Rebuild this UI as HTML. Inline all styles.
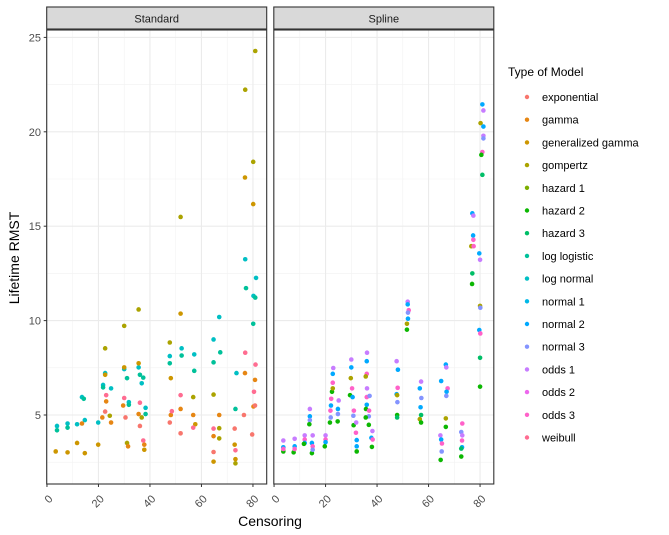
<!DOCTYPE html>
<html><head><meta charset="utf-8"><style>
html,body{margin:0;padding:0;background:#fff;}
svg{display:block;font-family:"Liberation Sans",Arial,sans-serif;}
</style></head><body>
<svg id="chart" width="669" height="535" viewBox="0 0 669 535" xmlns="http://www.w3.org/2000/svg">
<rect x="0" y="0" width="669" height="535" fill="#fff"/>
<g id="panels"></g>
<text x="270" y="526" text-anchor="middle" font-size="14" fill="#000">Censoring</text>
<text transform="translate(19,258) rotate(-90)" text-anchor="middle" font-size="14" fill="#000">Lifetime RMST</text>
<g id="legend">
<text x="508" y="76" font-size="12" fill="#000">Type of Model</text>
</g>
</svg>
<script>
const modelNames = ["exponential","gamma","generalized gamma","gompertz","hazard 1","hazard 2","hazard 3","log logistic","log normal","normal 1","normal 2","normal 3","odds 1","odds 2","odds 3","weibull"];
const modelColors = ["#F8766D","#E68613","#CD9600","#ABA300","#7CAE00","#0CB702","#00BE67","#00C19A","#00BFC4","#00B8E7","#00A9FF","#8494FF","#C77CFF","#ED68ED","#FF61C9","#FF6C91"];
const panelTitles = ["Standard","Spline"];
const xTicks = [0,20,40,60,80];
const yTicks = [5,10,15,20,25];

const standardCens = [3.9,3.9,8,8,11.7,13.6,14.3,14.7,19.9,21.8,21.8,22.6,24.9,30,31.1,31.8,31.8,35.6,36.1,36.8,37.4,38.3,38.3,47.7,47.7,52.3,52.3,57.2,57.2,64.7,64.7,66.9,67.3,73.6,73.2,77,77.3,81.2,80.2,80.9,80.1,
22.6,30,35.6,47.7,51.9,56.8,64.7,66.9,66.9,73.2,77,80.9,80.1,24.4,31.1,36.8,
3.4,8,11.7,14.7,19.9,22.6,30,35.6,37.8,51.9,48.1,72.9,73.2,76.9,80.1,64.7,57.6,
13.6,21.5,23,24.9,29.6,31.5,35.6,37.8,48.1,51.9,56.8,66.9,64.7,76.9,80.8,80.2,
23,22.6,30,30.5,36.1,36.1,37.4,47.7,51.9,51.9,48.5,56.8,64.7,64.7,72.9,73.2,76.5,77,79.7,81,80.4,80.8];
const standardRmst = [4.42,4.19,4.55,4.33,4.51,5.95,5.86,4.73,4.6,6.59,6.46,7.22,6.41,7.43,6.95,5.68,5.54,7.52,7.13,6.68,6.98,5.38,5.05,8.12,7.74,8.53,8.15,8.21,7.34,9,7.79,10.19,8.32,7.22,5.32,13.25,11.72,12.26,11.31,11.22,9.83,
8.53,9.72,10.59,8.84,15.49,5.95,6.08,4.3,3.76,2.44,22.23,24.28,18.41,4.96,3.52,4.87,
3.07,3.02,3.52,2.98,3.43,7.13,7.52,7.74,3.16,10.37,6.95,3.43,2.66,17.58,16.17,2.53,4.51,
4.55,4.87,5.72,4.6,5.5,3.34,5.05,3.43,5,5.32,5,5,3.88,7.22,6.86,5.45,
6.05,5.18,5.9,4.87,5.65,4.42,3.65,4.6,6.05,4.03,5.2,4.33,4.28,3.04,4.28,3.13,5,8.3,3.97,7.67,6.23,5.5];
const standardModel = [8,7,8,7,8,8,7,8,8,8,7,8,8,8,7,8,7,8,7,8,7,8,7,8,7,8,7,8,7,8,7,8,7,8,7,8,7,8,8,7,7,
3,3,3,3,3,3,3,3,3,3,3,3,3,3,3,3,
2,2,2,2,2,2,2,2,2,2,2,2,2,2,2,2,2,
1,1,1,1,1,1,1,1,1,1,1,1,1,1,1,1,
15,0,15,0,15,0,15,0,15,0,15,15,15,0,0,15,0,15,0,15,15,0];

const splineCens = [3.6,3.6,3.6,3.6, 8,8,7.6,8, 11.9,11.9,11.9,11.6, 13.9,13.9,13.9,13.7, 15,14.7,15,14.7,15, 20,20,20,19.7,
23,22.8,22.8,22.5,22.2,22.1,21.9,22,21.7,22.8, 25.1,24.8,24.8,24.7,
30,30,29.8,30.3,29.5,30.5,31,30.8,30.9,31.9,31.8,32.1,32.1,32.1,
36.1,36,36,35.6,36.1,36,36,35.7,36.9,36.8,36.8,37.1,38.2,37.8,38.3,38,35.6,
47.6,48.1,48,47.6,47.9,47.8,47.8,47.8, 51.9,51.9,52.3,52,52,51.6,51.6,
57.1,56.6,57.2,56.9,57.1,56.6,57.1, 64.9,64.6,64.9,65.2,65.1,64.7, 66.7,66.9,67.4,67,66.9,66.7,66.7,
73.1,72.7,73.1,73,73,72.7,72.7, 77,77.4,77.3,77.4,76.6,77.5,77,76.9,
80.9,81.3,80.2,81.3,81.3,81.3,80.9,80.5,80.9,79.7,80,80,80.1,79.7,80.1,80,80];
const splineRmst = [3.65,3.29,3.07,3.2, 3.74,3.34,3.02,3.2, 3.92,3.7,3.52,3.47, 5.32,4.93,4.73,4.51, 3.92,3.52,3.34,2.98,3.16, 3.92,3.7,3.56,3.34,
7.49,7.18,6.71,6.23,5.86,5.5,5.23,4.87,4.6,6.41, 5.77,5.32,5.05,4.66,
7.94,7.52,6.95,6.41,6.05,5.95,5.23,4.96,4.46,4.6,4.06,3.67,3.34,3.07,
8.3,7.85,7.18,7.04,6.41,5.95,5.54,5.32,5.23,4.93,4.48,6.01,4.15,3.79,3.7,3.31,4.87,
7.85,7.4,6.44,6.1,5.68,6.05,5,4.87, 11,10.86,10.55,10.42,10.1,9.83,9.52,
6.77,6.41,5.9,5.41,5,4.78,4.6, 6.8,3.92,3.7,3.49,3.07,2.62, 7.67,7.52,6.41,6.23,6.01,4.82,4.37,
4.55,4.1,3.92,3.65,3.29,3.22,2.8, 15.68,15.56,14.51,14.28,13.94,13.94,12.5,11.94,
21.45,21.13,20.46,20.28,19.79,19.65,18.93,18.78,17.72,13.56,13.22,10.78,10.68,9.5,9.32,8.03,6.5];
const splineModel = [12,10,5,14, 12,10,5,14, 12,14,10,5, 12,10,11,5, 12,10,14,5,11, 12,14,10,5,
12,10,14,5,14,10,14,11,5,3, 12,10,11,5,
12,10,3,14,5,10,14,11,5,12,14,10,10,5,
12,10,14,3,12,14,10,5,14,11,5,11,12,10,14,5,5,
12,10,14,10,11,3,5,6, 12,10,14,11,10,3,5,
12,10,11,10,6,3,5, 10,12,10,14,11,5, 10,12,14,10,11,3,5,
14,11,12,14,10,6,5, 10,12,10,14,3,14,6,5,
10,12,3,10,12,11,14,5,6,10,12,3,11,10,14,6,5];

const NS = "http://www.w3.org/2000/svg";
const panelX = [46.7, 273.8];
const panelW = 220;
const stripTop = 7, panelTop = 30, panelBottom = 484;
const xMin = -0.1, xScale = 2.575;
function xPos(p, c){ return panelX[p] + (c - xMin) * xScale; }
function yPos(v){ return 415 - (v - 5) * 18.88; }
function mk(tag, attrs){ const e = document.createElementNS(NS, tag); for (const k in attrs) e.setAttribute(k, attrs[k]); return e; }

const panels = document.getElementById('panels');
const datasets = [[standardCens, standardRmst, standardModel],[splineCens, splineRmst, splineModel]];
for (let p = 0; p < 2; p++) {
  const g = mk('g', {});
  
  
  panels.appendChild(g);
  const x0 = panelX[p];
  const bg = mk('rect', {x:x0, y:panelTop, width:panelW, height:panelBottom-panelTop, fill:'#fff'});
  
  
  g.appendChild(bg);
  // minor grid
  for (let v = 2.5; v <= 25; v += 5) {
    const l = mk('line', {x1:x0, x2:x0+panelW, y1:yPos(v), y2:yPos(v), stroke:'#f2f2f2', 'stroke-width':0.6});
    
    
    g.appendChild(l);
  }
  for (let c = 10; c <= 80; c += 20) {
    const l = mk('line', {x1:xPos(p,c), x2:xPos(p,c), y1:panelTop, y2:panelBottom, stroke:'#f2f2f2', 'stroke-width':0.6});
    
    
    g.appendChild(l);
  }
  yTicks.forEach(v => {
    const l = mk('line', {x1:x0, x2:x0+panelW, y1:yPos(v), y2:yPos(v), stroke:'#ebebeb', 'stroke-width':1.1});
    
    
    g.appendChild(l);
  });
  xTicks.forEach(c => {
    const l = mk('line', {x1:xPos(p,c), x2:xPos(p,c), y1:panelTop, y2:panelBottom, stroke:'#ebebeb', 'stroke-width':1.1});
    
    
    g.appendChild(l);
    const t = mk('line', {x1:xPos(p,c), x2:xPos(p,c), y1:panelBottom, y2:panelBottom+3, stroke:'#333', 'stroke-width':1});
    
    
    g.appendChild(t);
    const tx = xPos(p,c), ty = panelBottom + 8;
    const lab = mk('text', {x:tx, y:ty, 'font-size':11, fill:'#4d4d4d', 'text-anchor':'end', transform:'rotate(-45 '+(tx+3)+' '+ty+')', dy:'0.7em'});
    lab.textContent = c;
    
    
    g.appendChild(lab);
  });
  const [cs, rs, ms] = datasets[p];
  for (let i = 0; i < cs.length; i++) {
    const d = mk('circle', {cx:xPos(p,cs[i]), cy:yPos(rs[i]), r:2.3, fill:modelColors[ms[i]]});
    
    
    g.appendChild(d);
  }
  const border = mk('rect', {x:x0, y:panelTop, width:panelW, height:panelBottom-panelTop, fill:'none', stroke:'#333', 'stroke-width':1.1});
  
  
  g.appendChild(border);
  const strip = mk('rect', {x:x0, y:stripTop, width:panelW, height:panelTop-stripTop-1, fill:'#d9d9d9', stroke:'#333', 'stroke-width':1.1});
  
  
  g.appendChild(strip);
  const st = mk('text', {x:x0+panelW/2, y:22.5, 'font-size':11, fill:'#1a1a1a', 'text-anchor':'middle'});
  st.textContent = panelTitles[p];
  
  
  g.appendChild(st);
}
// y axis
const svg = document.getElementById('chart');
yTicks.forEach(v => {
  const t = mk('line', {x1:43.7, x2:46.7, y1:yPos(v), y2:yPos(v), stroke:'#333', 'stroke-width':1});
  
  
  svg.appendChild(t);
  const lab = mk('text', {x:41, y:yPos(v)+4, 'font-size':11, fill:'#4d4d4d', 'text-anchor':'end'});
  lab.textContent = v;
  
  
  svg.appendChild(lab);
});
// legend
const legend = document.getElementById('legend');
modelNames.forEach((n, i) => {
  const y = 97 + i * 22.7;
  const g = mk('g', {});
  
  
  const d = mk('circle', {cx:527, cy:y, r:2.2, fill:modelColors[i]});
  
  
  const t = mk('text', {x:542, y:y+4, 'font-size':11, fill:'#000'});
  t.textContent = n;
  
  
  g.appendChild(d); g.appendChild(t);
  legend.appendChild(g);
});
</script>
</body></html>
